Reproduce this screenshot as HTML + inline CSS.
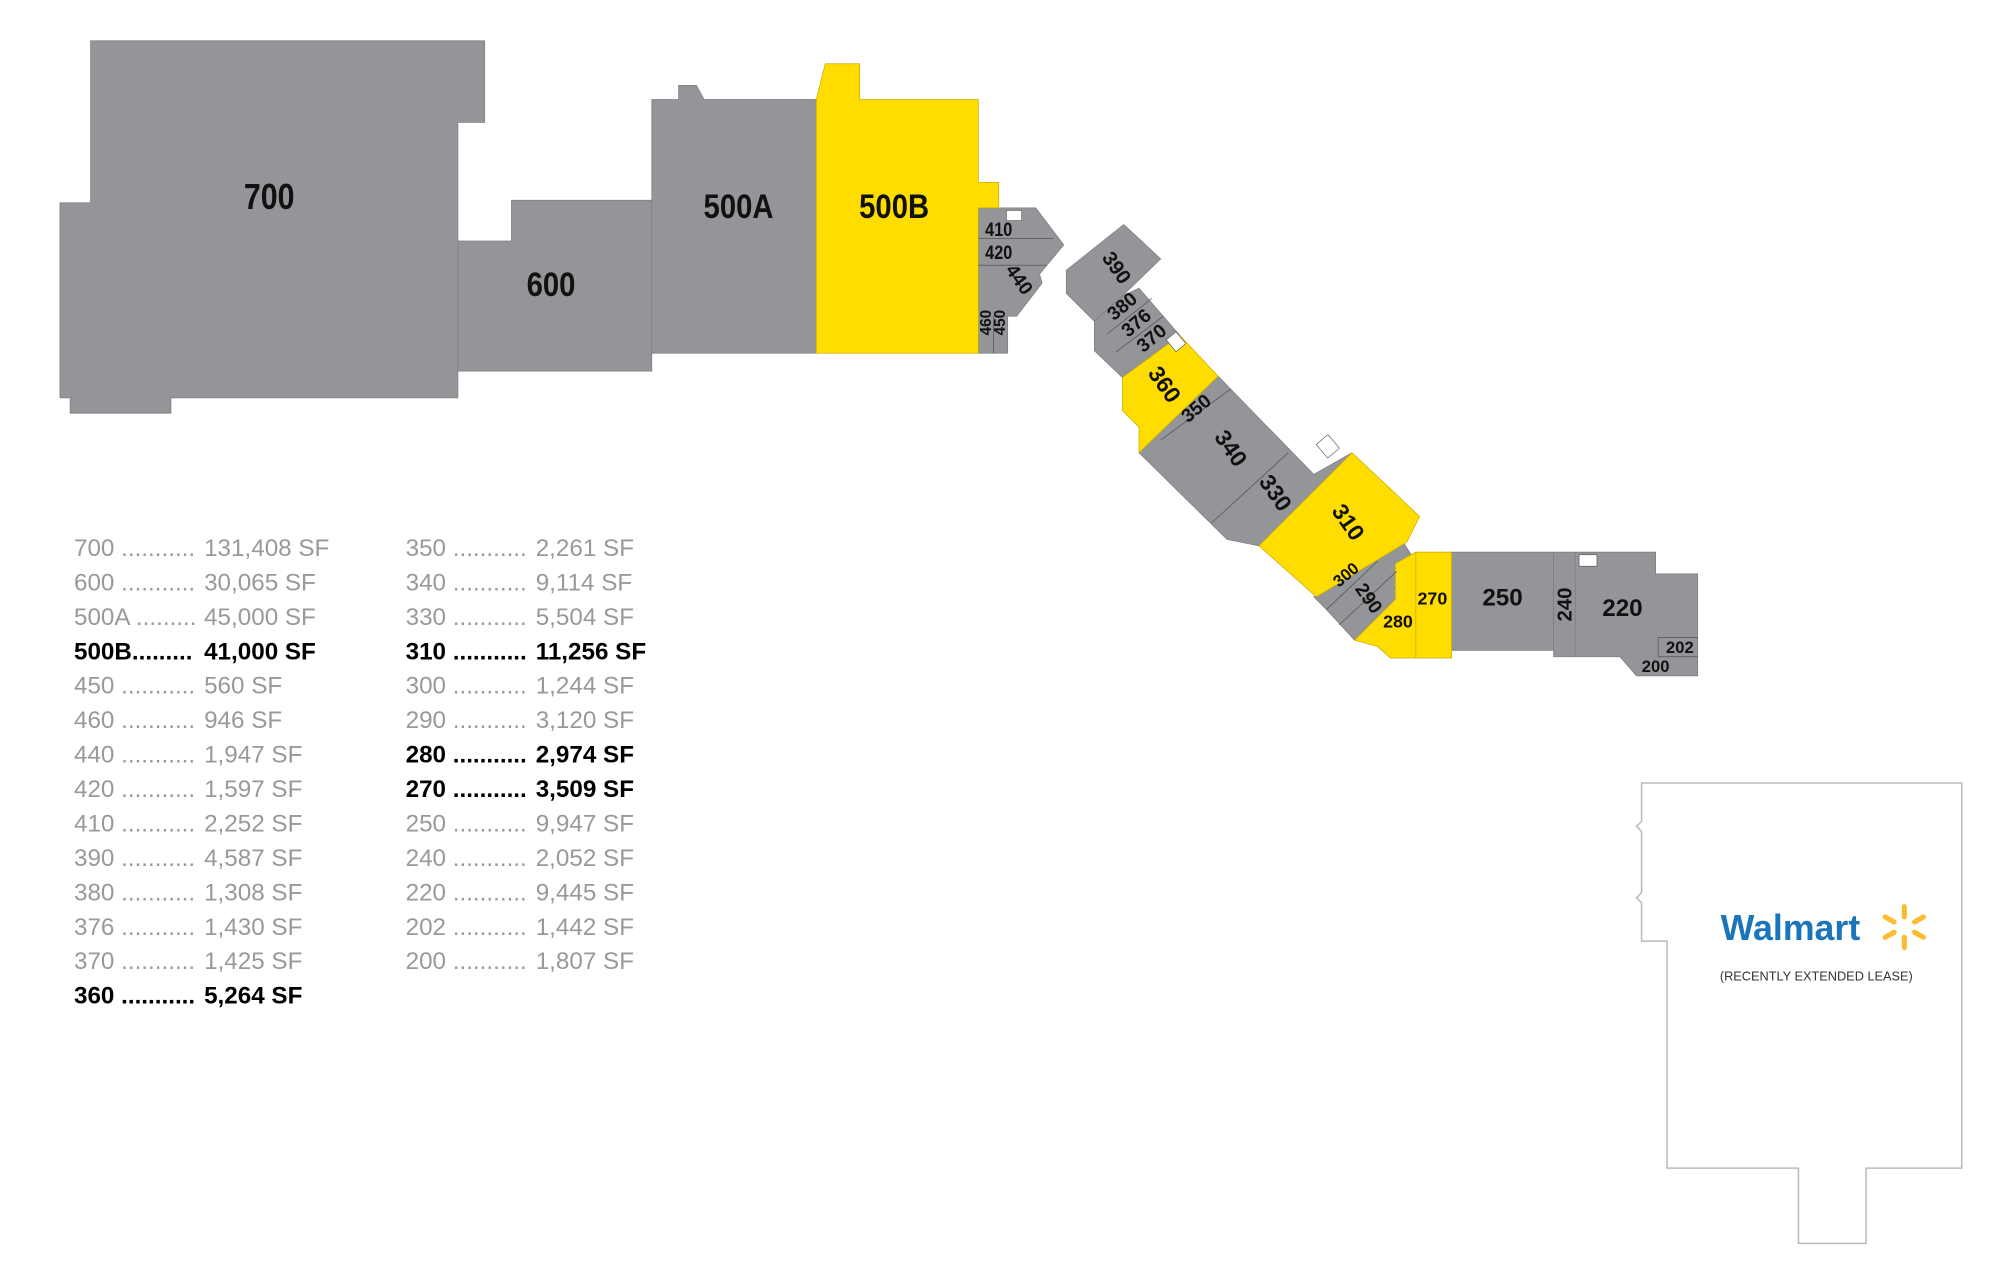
<!DOCTYPE html>
<html><head><meta charset="utf-8"><style>
html,body{margin:0;padding:0;background:#fff}
svg{display:block}
text{font-family:"Liberation Sans",Arial,sans-serif}
.b{font-weight:bold;fill:#111}
.lg{font-size:19px;fill:#999}
.lb{font-size:19px;fill:#000;font-weight:bold}
</style></head><body>
<svg width="2000" height="1274" viewBox="0 0 1568 999" preserveAspectRatio="none" xmlns="http://www.w3.org/2000/svg">
<g fill="#939598" stroke="#7d7f82" stroke-width="0.6">
<polygon points="71,32 380,32 380,96 359,96 359,312 134,312 134,324 55,324 55,312 47,312 47,159 71,159"/>
<polygon points="359,189 401,189 401,157 511,157 511,291 359,291"/>
<polygon points="511,78 532,78 532,67 546,67 552,78 640,78 640,277 511,277"/>
<polygon points="767,163 812,163 834,192 815,215 817,222 797,248 790,248 790,277 767,277"/>
<polygon points="836,212 881,176 910,203 880,232 858,252 836,230"/>
<polygon points="858,252 880,232 893,226 925,263 880,296 858,275"/>
<polygon points="893,355 955,295 1030,372 1060,355 987,428 962,423"/>
<polygon points="1030,468 1100,425 1107,436 1097,442 1093,458 1097,478 1080,500 1062,502 1040,478"/>
<polygon points="1138,433 1218,433 1218,510 1138,510"/>
<polygon points="1218,433 1235,433 1235,515 1218,515"/>
<polygon points="1235,433 1298,433 1298,450 1331,450 1331,530 1283,530 1270,515 1235,515"/>
</g>
<g fill="#ffdd00" stroke="#c9b000" stroke-width="0.6">
<polygon points="640,78 647,50 674,50 674,78 767,78 767,143 783,143 783,163 767,163 767,277 640,277"/>
<polygon points="880,296 925,263 955,295 893,355 893,335 880,322"/>
<polygon points="987,428 1060,355 1113,405 1103,425 1032,468"/>
<polygon points="1062,502 1094,470 1094,442 1110,433 1110,516 1090,516 1080,507"/>
<polygon points="1110,433 1138,433 1138,516 1110,516"/>
</g>
<g stroke="#555" stroke-width="0.6" fill="none">
<line x1="767" y1="187" x2="826" y2="187"/><line x1="767" y1="208" x2="820" y2="208"/>
<line x1="779" y1="248" x2="779" y2="277"/>
<line x1="868" y1="262" x2="903" y2="234"/><line x1="875" y1="276" x2="912" y2="248"/>
<line x1="910" y1="345" x2="965" y2="305"/><line x1="950" y1="410" x2="1010" y2="355"/>
<line x1="1040" y1="478" x2="1080" y2="440"/><line x1="1050" y1="490" x2="1095" y2="448"/>
<line x1="1300" y1="500" x2="1331" y2="500"/><line x1="1300" y1="500" x2="1300" y2="515"/><line x1="1300" y1="515" x2="1331" y2="515"/>
</g>
<g fill="#fff" stroke="#555" stroke-width="0.5">
<rect x="789" y="165" width="12" height="8"/><rect x="917" y="262" width="10" height="12" transform="rotate(-40 922 268)"/>
<rect x="1035" y="343" width="12" height="14" transform="rotate(-40 1041 350)"/><rect x="1238" y="435" width="14" height="9"/>
</g>
<g class="b" text-anchor="middle">
<text font-size="28" transform="translate(211,164) scale(0.85,1)">700</text>
<text font-size="27" transform="translate(432,232) scale(0.85,1)">600</text>
<text font-size="27" transform="translate(579,171) scale(0.85,1)">500A</text>
<text font-size="27" transform="translate(701,171) scale(0.85,1)">500B</text>
<text font-size="15" transform="translate(783,185) scale(0.85,1)">410</text>
<text font-size="15" transform="translate(783,203) scale(0.85,1)">420</text>
<text font-size="15" transform="translate(795,222) rotate(55)">440</text>
<text font-size="12" transform="translate(777,253) rotate(-90)">460</text>
<text font-size="12" transform="translate(788,253) rotate(-90)">450</text>
<text font-size="16" transform="translate(871,213) rotate(55)">390</text>
<text font-size="15" transform="translate(883,244) rotate(-40)">380</text>
<text font-size="15" transform="translate(894,257) rotate(-40)">376</text>
<text font-size="15" transform="translate(906,269) rotate(-40)">370</text>
<text font-size="18" transform="translate(908,305) rotate(55)">360</text>
<text font-size="15" transform="translate(941,324) rotate(-40)">350</text>
<text font-size="18" transform="translate(960,355) rotate(55)">340</text>
<text font-size="18" transform="translate(995,390) rotate(55)">330</text>
<text font-size="18" transform="translate(1052,413) rotate(55)">310</text>
<text font-size="13" transform="translate(1058,454) rotate(-40)">300</text>
<text font-size="15" transform="translate(1069,472) rotate(55)">290</text>
<text x="1096" y="492" font-size="14">280</text>
<text x="1123" y="474" font-size="14">270</text>
<text x="1178" y="475" font-size="19">250</text>
<text font-size="16" transform="translate(1232,474) rotate(-90)">240</text>
<text x="1272" y="483" font-size="19">220</text>
<text x="1317" y="512" font-size="13">202</text>
<text x="1298" y="527" font-size="13">200</text>
</g>
<g>
<text x="58" y="436" class="lg">700 ...........</text><text x="160" y="436" class="lg">131,408 SF</text>
<text x="58" y="463" class="lg">600 ...........</text><text x="160" y="463" class="lg">30,065 SF</text>
<text x="58" y="490" class="lg">500A .........</text><text x="160" y="490" class="lg">45,000 SF</text>
<text x="58" y="517" class="lb">500B.........</text><text x="160" y="517" class="lb">41,000 SF</text>
<text x="58" y="544" class="lg">450 ...........</text><text x="160" y="544" class="lg">560 SF</text>
<text x="58" y="571" class="lg">460 ...........</text><text x="160" y="571" class="lg">946 SF</text>
<text x="58" y="598" class="lg">440 ...........</text><text x="160" y="598" class="lg">1,947 SF</text>
<text x="58" y="625" class="lg">420 ...........</text><text x="160" y="625" class="lg">1,597 SF</text>
<text x="58" y="652" class="lg">410 ...........</text><text x="160" y="652" class="lg">2,252 SF</text>
<text x="58" y="679" class="lg">390 ...........</text><text x="160" y="679" class="lg">4,587 SF</text>
<text x="58" y="706" class="lg">380 ...........</text><text x="160" y="706" class="lg">1,308 SF</text>
<text x="58" y="733" class="lg">376 ...........</text><text x="160" y="733" class="lg">1,430 SF</text>
<text x="58" y="760" class="lg">370 ...........</text><text x="160" y="760" class="lg">1,425 SF</text>
<text x="58" y="787" class="lb">360 ...........</text><text x="160" y="787" class="lb">5,264 SF</text>
<text x="318" y="436" class="lg">350 ...........</text><text x="420" y="436" class="lg">2,261 SF</text>
<text x="318" y="463" class="lg">340 ...........</text><text x="420" y="463" class="lg">9,114 SF</text>
<text x="318" y="490" class="lg">330 ...........</text><text x="420" y="490" class="lg">5,504 SF</text>
<text x="318" y="517" class="lb">310 ...........</text><text x="420" y="517" class="lb">11,256 SF</text>
<text x="318" y="544" class="lg">300 ...........</text><text x="420" y="544" class="lg">1,244 SF</text>
<text x="318" y="571" class="lg">290 ...........</text><text x="420" y="571" class="lg">3,120 SF</text>
<text x="318" y="598" class="lb">280 ...........</text><text x="420" y="598" class="lb">2,974 SF</text>
<text x="318" y="625" class="lb">270 ...........</text><text x="420" y="625" class="lb">3,509 SF</text>
<text x="318" y="652" class="lg">250 ...........</text><text x="420" y="652" class="lg">9,947 SF</text>
<text x="318" y="679" class="lg">240 ...........</text><text x="420" y="679" class="lg">2,052 SF</text>
<text x="318" y="706" class="lg">220 ...........</text><text x="420" y="706" class="lg">9,445 SF</text>
<text x="318" y="733" class="lg">202 ...........</text><text x="420" y="733" class="lg">1,442 SF</text>
<text x="318" y="760" class="lg">200 ...........</text><text x="420" y="760" class="lg">1,807 SF</text>
</g>
<polygon points="1287,614 1538,614 1538,916 1463,916 1463,975 1410,975 1410,916 1307,916 1307,738 1287,738 1287,708 1283,704 1287,700 1287,652 1283,648 1287,644" fill="#fff" stroke="#bbb" stroke-width="1.2"/>
<text x="1349" y="737" font-size="28" font-weight="bold" fill="#1a75bb">Walmart</text>
<g stroke="#fdbb30" stroke-width="4" stroke-linecap="round">
<line x1="1493" y1="711" x2="1493" y2="719"/><line x1="1493" y1="735" x2="1493" y2="743"/>
<line x1="1478" y1="719" x2="1485" y2="723"/><line x1="1501" y1="731" x2="1508" y2="735"/>
<line x1="1478" y1="735" x2="1485" y2="731"/><line x1="1501" y1="723" x2="1508" y2="719"/>
</g>
<text x="1424" y="769" font-size="10" fill="#333" text-anchor="middle">(RECENTLY EXTENDED LEASE)</text>
</svg>
</body></html>
